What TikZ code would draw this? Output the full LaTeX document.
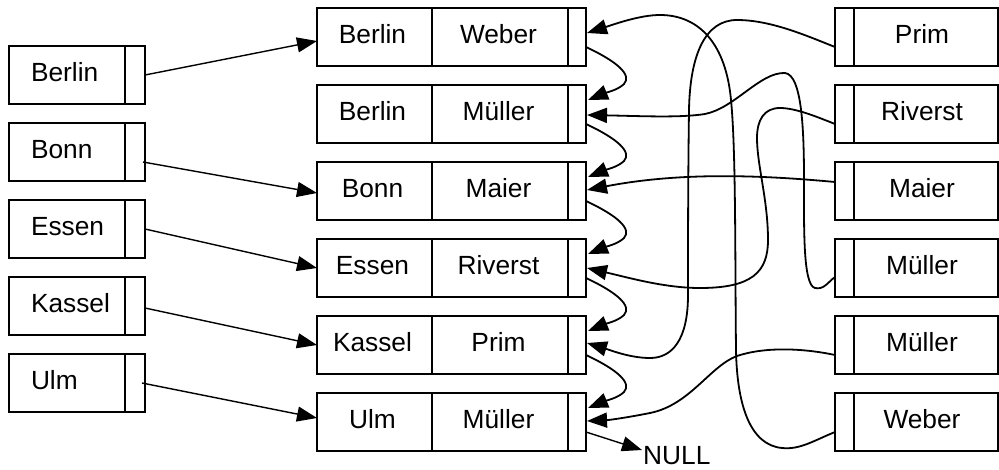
\documentclass[tikz,border=0pt]{standalone}
\usepackage{fontspec}
\setmainfont{Liberation Sans}
\usetikzlibrary{arrows.meta,calc}
\begin{document}
\begin{tikzpicture}[x=1pt,y=-1pt,
  lbl/.style={font=\fontsize{26.3pt}{31pt}\selectfont},
  cell/.style={lbl, draw, line width=1.8pt, inner sep=0pt, outer sep=0pt,
    minimum height=58pt, text height=19pt, text depth=6.5pt},
  link/.style={line width=1.8pt, -{Triangle[length=20pt,width=15pt]}},
  thinlink/.style={link, line width=1.4pt}
]
\useasboundingbox (0,0) rectangle (999,469);

% index on the city names (left)
\foreach \nm [count=\i] in {Berlin,Bonn,Essen,Kassel,Ulm} {
  \node[cell, minimum width=116pt, anchor=north west] (l\i) at (9,{46+77*(\i-1)}) {\makebox[72pt][l]{\nm}};
  \node[cell, minimum width=20pt, anchor=west] (lp\i) at (l\i.east) {};
}

% the record list (middle)
\foreach \ka/\kb [count=\i] in {Berlin/Weber,Berlin/Müller,Bonn/Maier,Essen/Riverst,Kassel/Prim,Ulm/Müller} {
  \node[cell, minimum width=115pt, anchor=north west] (ma\i) at (317,{8+77*(\i-1)}) {\hspace*{-4pt}\ka};
  \node[cell, minimum width=136pt, anchor=west] (mb\i) at (ma\i.east) {\hspace*{-3pt}\kb};
  \node[cell, minimum width=18pt, anchor=west] (mp\i) at (mb\i.east) {};
}

% index on the person names (right)
\foreach \nm [count=\i] in {Prim,Riverst,Maier,Müller,Müller,Weber} {
  \node[cell, minimum width=19pt, anchor=north west] (rp\i) at (835,{8+77*(\i-1)}) {};
  \node[cell, minimum width=144pt, anchor=west] (r\i) at (rp\i.east) {\hspace*{-8pt}\nm};
}

% city index pointers
\draw[thinlink] (lp1.east) -- ($(ma1.west)+(0,4)$);
\draw[thinlink] ($(lp2.east)+(-2,10)$) -- ($(ma3.west)+(0,2)$);
\draw[thinlink] (lp3.east) -- (ma4.west);
\draw[thinlink] ($(lp4.east)+(0,2)$) -- (ma5.west);
\draw[thinlink] ($(lp5.east)+(-3,0)$) -- ($(ma6.west)+(0,-4)$);

% list chaining
\foreach \i [evaluate=\i as \j using int(\i+1)] in {1,...,5} {
  \draw[link] ($(mp\i.east)+(0,10)$)
    .. controls ($(mp\i.east)+(32,25)$) and ($(mp\i.east)+(46,38)$) .. ($(mp\i.east)+(38,47)$)
    .. controls ($(mp\i.east)+(32,53)$) and ($(mp\i.east)+(19,56)$) .. ($(mp\j.east)+(2,-14)$);
}
\node[lbl, anchor=base west, inner sep=0pt] (null) at (643,464) {NULL};
\draw[thinlink] ($(mp6.east)+(0,10)$) -- ($(null.base west)+(-1,-14)$);

% person index pointers
\draw[link] ($(rp6.west)+(0,10)$) .. controls (815,440) and (800,450) .. (782,448)
  .. controls (750,445) and (737,405) .. (736,350)
  .. controls (735,260) and (736,150) .. (731,100)
  .. controls (726,45) and (700,15) .. (660,15)
  .. controls (640,15) and (615,24) .. ($(mp1.east)+(1,-4)$);
\draw[link] ($(rp4.west)+(0,9)$) .. controls (828,282) and (824,290) .. (815,288)
  .. controls (803,285) and (804,230) .. (804,180)
  .. controls (804,130) and (802,75) .. (785,73)
  .. controls (760,72) and (735,108) .. (705,114)
  .. controls (680,118) and (640,116) .. ($(mp2.east)+(1,1)$);
\draw[link] ($(rp2.west)+(0,10)$) .. controls (815,116) and (795,108) .. (780,108)
  .. controls (764,108) and (757,120) .. (757,138)
  .. controls (757,165) and (768,200) .. (768,240)
  .. controls (768,272) and (752,288) .. (700,288)
  .. controls (665,288) and (630,278) .. ($(mp4.east)+(1,0)$);
\draw[link] ($(rp1.west)+(0,10)$) .. controls (805,35) and (770,20) .. (737,20)
  .. controls (705,20) and (690,55) .. (689,110)
  .. controls (688,180) and (688,250) .. (688,295)
  .. controls (688,340) and (672,358) .. (650,358)
  .. controls (630,358) and (610,350) .. ($(mp5.east)+(1,-2)$);
\draw[link] ($(rp3.west)+(0,-9)$) .. controls (760,175) and (680,172) .. ($(mp3.east)+(1,-1)$);
\draw[link] ($(rp5.west)+(0,10)$) .. controls (812,350) and (770,345) .. (737,356)
  .. controls (710,366) and (690,405) .. (650,413)
  .. controls (630,417) and (610,420) .. ($(mp6.east)+(1,-1)$);
\end{tikzpicture}
\end{document}
